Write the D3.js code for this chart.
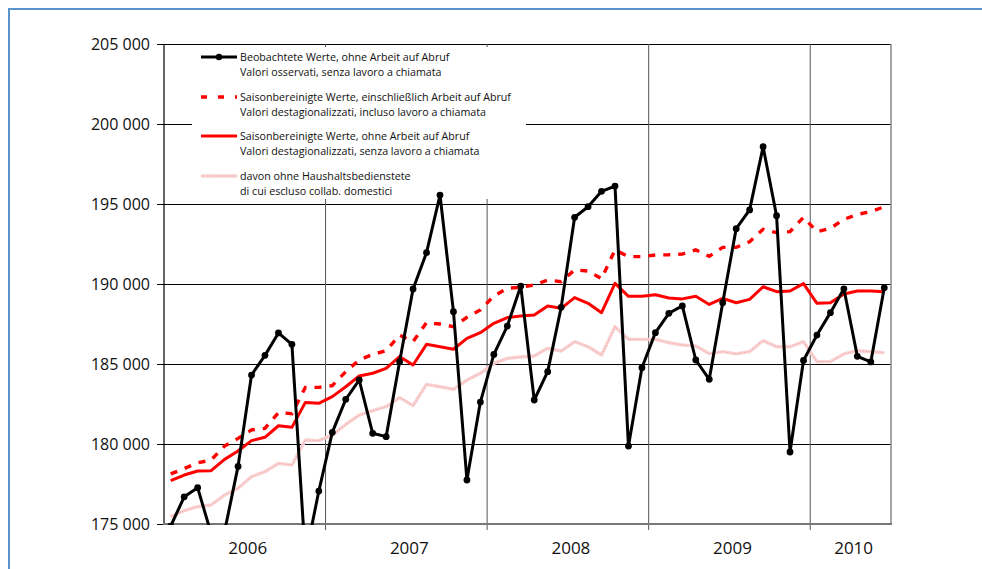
<!DOCTYPE html>
<html>
<head>
<meta charset="utf-8">
<script src="https://cdn.jsdelivr.net/npm/d3@7"></script>
<style>
  html, body { margin: 0; padding: 0; background: #fff; }
  svg { display: block; }
  text { font-family: "Open Sans", Lato, sans-serif; fill: #111; }
</style>
</head>
<body>
<svg id="chart" width="982" height="569"></svg>
<script>
// Employment, monthly, Jan 2006 – Jun 2010
const years = ["2006", "2007", "2008", "2009", "2010"];
const monthsPerYear = [12, 12, 12, 12, 6];
const yTicks = [175000, 180000, 185000, 190000, 195000, 200000, 205000];

// Observed values, without on-call work
const observed = [
  174870, 176700, 177270, 174400, 174540, 178600, 184310, 185540, 186940, 186230, 172900, 177060,
  180730, 182790, 184000, 180670, 180460, 185140, 189690, 191960, 195560, 188270, 177750, 182620,
  185600, 187370, 189870, 182750, 184520, 188540, 194170, 194830, 195790, 196120, 179870, 184770,
  186960, 188170, 188630, 185250, 184040, 188830, 193460, 194630, 198580, 194270, 179500, 185220,
  186810, 188210, 189700, 185480, 185130, 189760
];
// Seasonally adjusted, including on-call work
const adjIncl = [
  178130, 178460, 178820, 179000, 179870, 180350, 180880, 180980, 181960, 181900, 183540, 183540,
  183650, 184520, 185250, 185600, 185830, 186810, 186400, 187580, 187500, 187330, 187920, 188380,
  189250, 189730, 189800, 189940, 190250, 190150, 190880, 190810, 190330, 192130, 191710, 191710,
  191810, 191830, 191870, 192130, 191730, 192290, 192290, 192640, 193420, 193210, 193270, 194170,
  193270, 193480, 194040, 194350, 194520, 194830
];
// Seasonally adjusted, without on-call work
const adjExcl = [
  177710, 178060, 178310, 178330, 179040, 179560, 180210, 180420, 181140, 181040, 182600, 182540,
  182960, 183580, 184250, 184420, 184730, 185460, 184940, 186230, 186080, 185920, 186600, 186960,
  187540, 187900, 188000, 188060, 188630, 188480, 189150, 188790, 188210, 190040, 189230, 189230,
  189330, 189120, 189070, 189230, 188720, 189100, 188830, 189040, 189830, 189520, 189560, 190020,
  188790, 188830, 189380, 189560, 189560, 189520
];
// of which without domestic staff
const exclDomestic = [
  175460, 175830, 176080, 176190, 176810, 177230, 177960, 178270, 178790, 178690, 180250, 180210,
  180560, 181220, 181810, 182080, 182330, 182900, 182400, 183730, 183580, 183420, 184000, 184420,
  185040, 185350, 185440, 185500, 185980, 185810, 186400, 186080, 185560, 187330, 186540, 186540,
  186540, 186330, 186190, 186130, 185650, 185770, 185630, 185770, 186460, 186080, 186080, 186400,
  185150, 185150, 185630, 185830, 185770, 185710
];

const legendLines = [
  ["Beobachtete Werte, ohne Arbeit auf Abruf", "Valori osservati, senza lavoro a chiamata"],
  ["Saisonbereinigte Werte, einschließlich Arbeit auf Abruf", "Valori destagionalizzati, incluso lavoro a chiamata"],
  ["Saisonbereinigte Werte, ohne Arbeit auf Abruf", "Valori destagionalizzati, senza lavoro a chiamata"],
  ["davon ohne Haushaltsbedienstete", "di cui escluso collab. domestici"]
];

// month categories built from the year list
const months = [];
years.forEach((y, i) => {
  for (let m = 1; m <= monthsPerYear[i]; m++) months.push(y + "-" + String(m).padStart(2, "0"));
});

const svg = d3.select("#chart");
const plot = { left: 164, right: 891, top: 44, bottom: 524 };

const x = d3.scaleBand().domain(months).range([plot.left, plot.right]).paddingInner(0).paddingOuter(0);
const xc = d => x(d) + x.bandwidth() / 2;
const y = d3.scaleLinear().domain([175000, 205000]).range([plot.bottom, plot.top]);

// outer frame
svg.append("path")
  .attr("d", "M9,569 L9,9 L982,9")
  .attr("fill", "none").attr("stroke", "#5a93cc").attr("stroke-width", 2);

svg.append("defs").append("clipPath").attr("id", "plotClip")
  .append("rect").attr("x", plot.left).attr("y", plot.top)
  .attr("width", plot.right - plot.left).attr("height", plot.bottom - plot.top + 1);

// horizontal grid
const yAxis = d3.axisLeft(y).tickValues(yTicks).tickSize(-(plot.right - plot.left)).tickSizeOuter(0)
  .tickFormat(d => d3.format(",")(d).replace(",", " ")).tickPadding(14);
const gy = svg.append("g").attr("transform", `translate(${plot.left},0)`).call(yAxis);
gy.select(".domain").remove();
gy.selectAll(".tick line").attr("stroke", "#000").attr("stroke-width", 1);
gy.selectAll(".tick text").attr("font-size", 16).attr("fill", "#111");
// short outer ticks
gy.selectAll(".tick").append("line").attr("x1", -7).attr("x2", 0).attr("stroke", "#000");

// vertical year separators
const yearStarts = years.slice(1).map(yr => x(yr + "-01"));
svg.append("g").selectAll("line").data(yearStarts).join("line")
  .attr("x1", d => d).attr("x2", d => d)
  .attr("y1", plot.top).attr("y2", plot.bottom + 6)
  .attr("stroke", "#555").attr("stroke-width", 1);

// year labels, centred in their month span
const yearSpans = years.map((yr, i) => {
  const first = yr + "-01";
  const last = yr + "-" + String(monthsPerYear[i]).padStart(2, "0");
  return { yr, mid: (x(first) + x(last) + x.bandwidth()) / 2 };
});
svg.append("g").selectAll("text").data(yearSpans).join("text")
  .attr("x", d => d.mid + 3).attr("y", 554)
  .attr("text-anchor", "middle").attr("font-size", 17)
  .text(d => d.yr);

// plot frame: left, right
svg.append("line").attr("x1", plot.left).attr("x2", plot.left).attr("y1", plot.top).attr("y2", plot.bottom)
  .attr("stroke", "#000").attr("stroke-width", 1.2);
svg.append("line").attr("x1", plot.right).attr("x2", plot.right).attr("y1", plot.top).attr("y2", plot.bottom)
  .attr("stroke", "#888").attr("stroke-width", 1.5);

// legend background hides the grid beneath it
svg.append("rect").attr("x", 192).attr("y", 47).attr("width", 334).attr("height", 152).attr("fill", "#fff");

// bottom axis line
svg.append("line").attr("x1", plot.left - 1).attr("x2", plot.right + 1)
  .attr("y1", plot.bottom).attr("y2", plot.bottom)
  .attr("stroke", "#777").attr("stroke-width", 2.2);

const line = d3.line().x((d, i) => xc(months[i])).y(d => y(d));
const g = svg.append("g").attr("clip-path", "url(#plotClip)");

// pink: without domestic staff (textured light line)
g.append("path").attr("d", line(exclDomestic)).attr("fill", "none")
  .attr("stroke", "#fad4d4").attr("stroke-width", 3.4).attr("stroke-linejoin", "round");
g.append("path").attr("d", line(exclDomestic)).attr("fill", "none")
  .attr("stroke", "#f3b0b0").attr("stroke-width", 1.1).attr("stroke-dasharray", "1.5,1.5");

// red dashed: incl. on-call
g.append("path").attr("d", line(adjIncl)).attr("fill", "none")
  .attr("stroke", "#ff0000").attr("stroke-width", 3.4).attr("stroke-dasharray", "7,8");

// red solid: without on-call
g.append("path").attr("d", line(adjExcl)).attr("fill", "none")
  .attr("stroke", "#ff0000").attr("stroke-width", 3).attr("stroke-linejoin", "round");

// black observed with markers
g.append("path").attr("d", line(observed)).attr("fill", "none")
  .attr("stroke", "#000").attr("stroke-width", 3).attr("stroke-linejoin", "round");
g.selectAll("circle.obs").data(observed).join("circle").attr("class", "obs")
  .attr("cx", (d, i) => xc(months[i])).attr("cy", d => y(d)).attr("r", 3.4).attr("fill", "#000");

// legend
const legendY = [57, 97, 136, 176];
const lg = svg.append("g");
const sx1 = 201, sx2 = 237;
lg.append("line").attr("x1", sx1).attr("x2", sx2).attr("y1", legendY[0]).attr("y2", legendY[0])
  .attr("stroke", "#000").attr("stroke-width", 3);
lg.append("circle").attr("cx", 219).attr("cy", legendY[0]).attr("r", 3.2).attr("fill", "#000");
lg.append("line").attr("x1", sx1).attr("x2", sx2).attr("y1", legendY[1]).attr("y2", legendY[1])
  .attr("stroke", "#ff0000").attr("stroke-width", 3.4).attr("stroke-dasharray", "6,11");
lg.append("line").attr("x1", sx1).attr("x2", sx2).attr("y1", legendY[2]).attr("y2", legendY[2])
  .attr("stroke", "#ff0000").attr("stroke-width", 3);
lg.append("line").attr("x1", sx1).attr("x2", sx2).attr("y1", legendY[3]).attr("y2", legendY[3])
  .attr("stroke", "#fad4d4").attr("stroke-width", 3.4);
lg.append("line").attr("x1", sx1).attr("x2", sx2).attr("y1", legendY[3]).attr("y2", legendY[3])
  .attr("stroke", "#f3b0b0").attr("stroke-width", 1.1).attr("stroke-dasharray", "1.5,1.5");

legendLines.forEach((pair, i) => {
  pair.forEach((t, j) => {
    lg.append("text").attr("x", 240).attr("y", legendY[i] + 4 + j * 14.5)
      .attr("font-size", 10.7).attr("fill", "#222").text(t);
  });
});
</script>
</body>
</html>
